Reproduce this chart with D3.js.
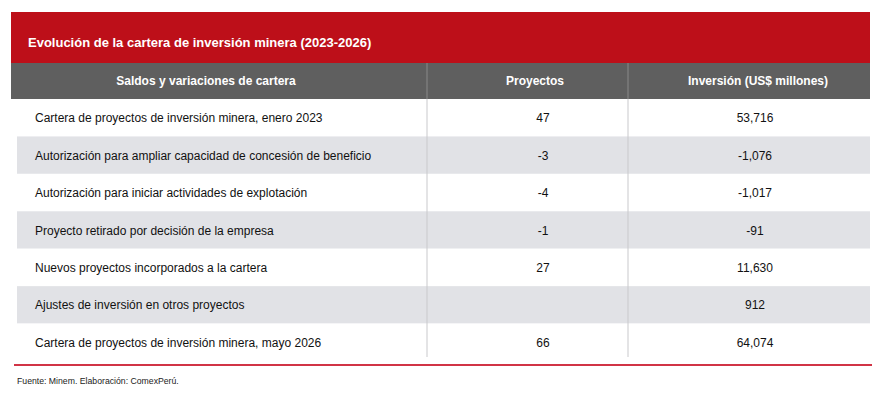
<!DOCTYPE html>
<html>
<head>
<meta charset="utf-8">
<script src="https://cdn.jsdelivr.net/npm/d3@7"></script>
<style>
  html, body { margin: 0; padding: 0; background: #fff; }
  svg { display: block; font-family: "Liberation Sans", Arial, sans-serif; }
</style>
</head>
<body>
<svg id="chart" width="886" height="402"></svg>
<script>
'use strict'
// data
var title = 'Evolución de la cartera de inversión minera (2023-2026)'
var headers = ['Saldos y variaciones de cartera', 'Proyectos', 'Inversión (US$ millones)']
var labels = [
  'Cartera de proyectos de inversión minera, enero 2023',
  'Autorización para ampliar capacidad de concesión de beneficio',
  'Autorización para iniciar actividades de explotación',
  'Proyecto retirado por decisión de la empresa',
  'Nuevos proyectos incorporados a la cartera',
  'Ajustes de inversión en otros proyectos',
  'Cartera de proyectos de inversión minera, mayo 2026'
]
var proyectos = [47, -3, -4, -1, 27, null, 66]
var inversion = [53716, -1076, -1017, -91, 11630, 912, 64074]
var source = 'Fuente: Minem. Elaboración: ComexPerú.'

// layout
var left = 11, right = 870
var colX = [11, 427, 628, 870]
var svg = d3.select('#chart')
// plain hyphen for negatives, like the original
var fmt = d3.formatLocale({decimal: '.', thousands: ',', grouping: [3], currency: ['$', ''], minus: '-'}).format(',d')

// title bar
svg.append('rect').attr('x', left).attr('y', 12).attr('width', right - left).attr('height', 51)
  .attr('fill', '#bd0f19')
svg.append('text').attr('x', 28).attr('y', 47).text(title)
  .attr('fill', '#fff').attr('font-size', 13).attr('font-weight', 'bold')

// header
svg.append('rect').attr('x', left).attr('y', 63).attr('width', right - left).attr('height', 36)
  .attr('fill', '#5f5f5f')
var headX = [206, 535, 758]
svg.selectAll('.head').data(headers).join('text')
  .attr('class', 'head')
  .attr('x', (d, i) => headX[i]).attr('y', 85)
  .attr('text-anchor', 'middle')
  .attr('fill', '#fff').attr('font-size', 12).attr('font-weight', 'bold')
  .text(d => d)

// body rows
var y = d3.scaleBand().domain(d3.range(labels.length)).range([99, 361])
svg.selectAll('.row').data(labels).join('rect')
  .attr('class', 'row')
  .attr('x', 17).attr('width', right - 17)
  .attr('y', (d, i) => y(i)).attr('height', y.bandwidth())
  .attr('fill', (d, i) => i % 2 ? '#e1e2e6' : '#fff')

// column dividers
svg.selectAll('.div').data(colX.slice(1, 3)).join('line')
  .attr('class', 'div')
  .attr('x1', d => d).attr('x2', d => d).attr('y1', 63).attr('y2', 99)
  .attr('stroke', '#8a8a8a').attr('stroke-width', 1)
svg.selectAll('.divb').data(colX.slice(1, 3)).join('line')
  .attr('class', 'divb')
  .attr('x1', d => d).attr('x2', d => d).attr('y1', 99).attr('y2', 357)
  .attr('stroke', '#c9c9cc').attr('stroke-width', 1)

var mid = i => y(i) + y.bandwidth() / 2 + 4.5
svg.selectAll('.lab').data(labels).join('text')
  .attr('class', 'lab')
  .attr('x', 35).attr('y', (d, i) => mid(i))
  .attr('fill', '#111').attr('font-size', 12)
  .text(d => d)
svg.selectAll('.proy').data(proyectos).join('text')
  .attr('class', 'proy')
  .attr('x', 543).attr('y', (d, i) => mid(i))
  .attr('text-anchor', 'middle')
  .attr('fill', '#111').attr('font-size', 12)
  .text(d => d == null ? '' : fmt(d))
svg.selectAll('.inv').data(inversion).join('text')
  .attr('class', 'inv')
  .attr('x', 755).attr('y', (d, i) => mid(i))
  .attr('text-anchor', 'middle')
  .attr('fill', '#111').attr('font-size', 12)
  .text(d => fmt(d))

// bottom rule and source
svg.append('line').attr('x1', 14).attr('x2', 872).attr('y1', 365).attr('y2', 365)
  .attr('stroke', '#d13446').attr('stroke-width', 2)
svg.append('text').attr('x', 17).attr('y', 384).text(source)
  .attr('fill', '#222').attr('font-size', 8.7)
</script>
</body>
</html>
